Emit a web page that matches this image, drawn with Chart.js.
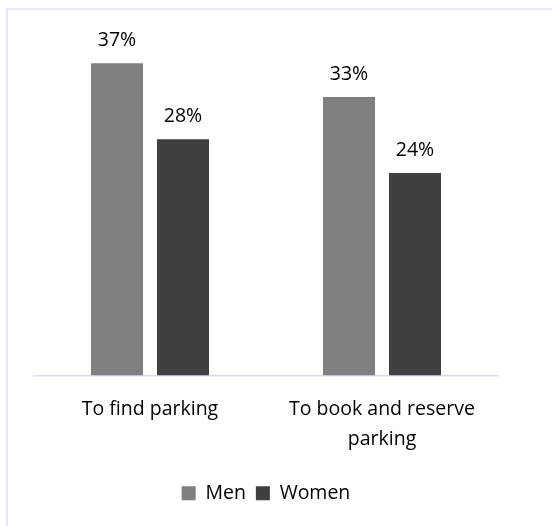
<!DOCTYPE html>
<html>
<head>
<meta charset="utf-8">
<script src="https://cdn.jsdelivr.net/npm/chart.js@4"></script>
<style>
    body { margin: 0; background: #fff; }
    #wrap { position: relative; width: 552px; height: 526px; overflow: hidden; }
    #frame {
        position: absolute; left: 6px; top: 8px; width: 560px; height: 540px;
        border-left: 2px solid #ebe7f7; border-top: 2px solid #ebe7f7;
    }
    canvas { position: absolute; left: 0; top: 0; }
</style>
</head>
<body>
<div id="wrap">
    <div id="frame"></div>
    <canvas id="usageChart" width="552" height="526"></canvas>
</div>
<script>
const categories = ['To find parking', ['To book and reserve', 'parking']];
const men = [37, 33];
const women = [28, 24];

const FONT = '"Open Sans", "Noto Sans", sans-serif';
const SIZE = 19.5;

// подписи значений над столбцами
const valueLabels = {
    id: 'valueLabels',
    afterDatasetsDraw(chart) {
        const ctx = chart.ctx;
        ctx.save();
        ctx.font = SIZE + 'px ' + FONT;
        ctx.fillStyle = '#000';
        ctx.textAlign = 'center';
        ctx.textBaseline = 'middle';
        chart.data.datasets.forEach((ds, i) => {
            chart.getDatasetMeta(i).data.forEach((bar, j) => {
                ctx.fillText(ds.data[j] + '%', bar.x, bar.y - 23);
            });
        });
        ctx.restore();
    }
};

new Chart(document.getElementById('usageChart'), {
    type: 'bar',
    data: {
        labels: categories,
        datasets: [{
            label: 'Men',
            data: men,
            backgroundColor: '#7f7f7f'
        }, {
            label: 'Women',
            data: women,
            backgroundColor: '#404040'
        }]
    },
    options: {
        responsive: false,
        animation: false,
        categoryPercentage: 0.569,
        barPercentage: 0.788,
        layout: {
            padding: { left: 34, right: 54, top: 38, bottom: 13 }
        },
        plugins: {
            legend: {
                position: 'bottom',
                labels: {
                    boxWidth: 14,
                    boxHeight: 14,
                    padding: 10,
                    color: '#000',
                    font: { family: FONT, size: SIZE }
                }
            },
            tooltip: { enabled: false }
        },
        scales: {
            x: {
                grid: { display: false, drawTicks: false },
                border: { color: '#ddd9ee', width: 1.5 },
                ticks: {
                    color: '#000',
                    padding: 19,
                    maxRotation: 0,
                    font: { family: FONT, size: SIZE, lineHeight: 30 / SIZE }
                }
            },
            y: {
                display: false,
                min: 0,
                max: 40
            }
        }
    },
    plugins: [valueLabels]
});
</script>
</body>
</html>
